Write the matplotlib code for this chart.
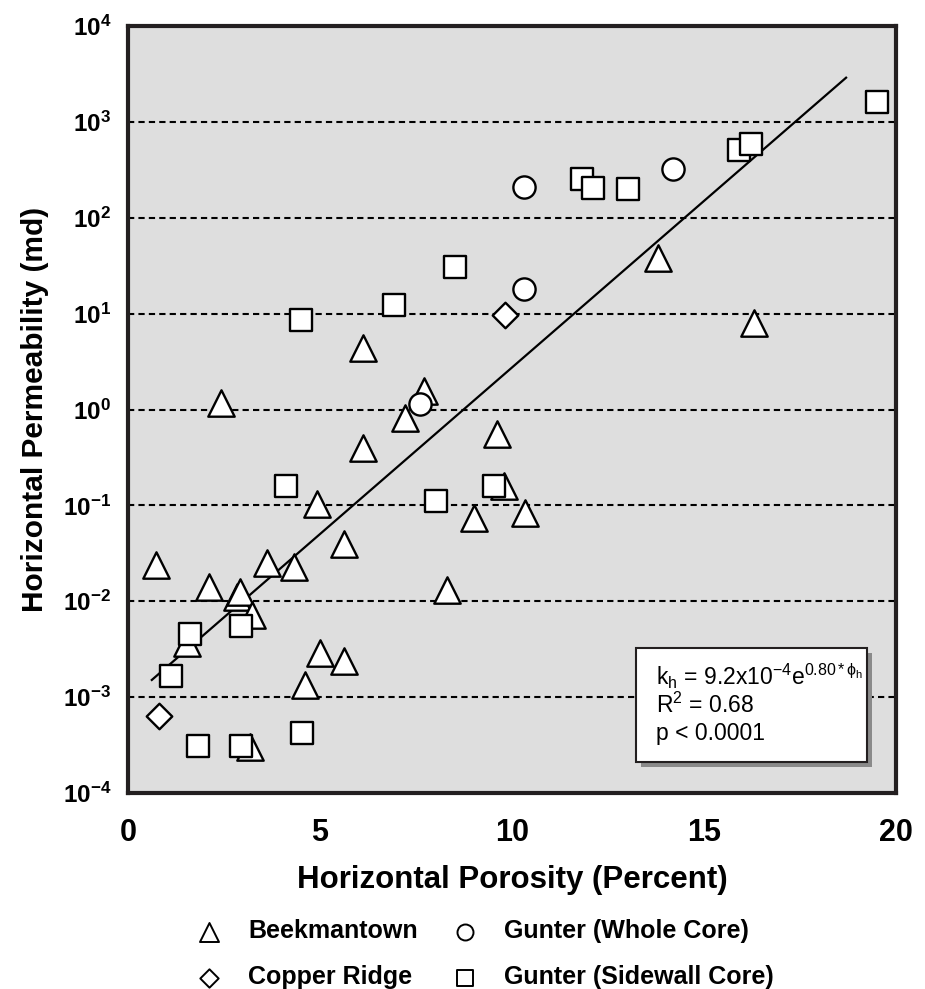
import numpy as np
import matplotlib
matplotlib.use('Agg')
import matplotlib.pyplot as plt
from matplotlib.patches import Rectangle
from matplotlib.ticker import FixedLocator, NullLocator

plt.rcParams['font.family'] = ['Liberation Sans', 'DejaVu Sans']
plt.rcParams['mathtext.fontset'] = 'custom'
plt.rcParams['mathtext.rm'] = 'Liberation Sans'
plt.rcParams['mathtext.it'] = 'Liberation Sans:italic'
plt.rcParams['mathtext.bf'] = 'Liberation Sans:bold'

# Beekmantown (triangles)
beek_phi = [0.73, 2.12, 2.84, 2.92, 3.23, 1.54, 3.62, 4.31, 5.62, 4.92, 8.31, 9.0,
            10.34, 5.01, 5.62, 4.62, 3.18, 9.78, 2.43, 6.12, 7.72, 7.22, 6.12, 9.61,
            13.81, 16.31]
beek_k = [0.024, 0.014, 0.011, 0.0126, 0.0072, 0.0037, 0.025, 0.023, 0.040, 0.104, 0.013, 0.074,
          0.083, 0.0029, 0.0024, 0.00135, 0.0003, 0.16, 1.17, 4.4, 1.55, 0.81, 0.40, 0.56,
          38, 7.9]

# Copper Ridge (diamonds)
copper_phi = [0.82, 9.81]
copper_k = [0.00063, 9.7]

# Gunter whole core (circles)
whole_phi = [10.30, 7.61, 10.31, 14.20]
whole_k = [18, 1.15, 210, 320]

# Gunter sidewall core (squares)
side_phi = [4.12, 8.02, 9.52, 2.93, 1.62, 1.13, 1.82, 2.93, 4.53, 4.51, 6.92, 8.52,
            11.81, 12.12, 13.01, 15.91, 16.22, 19.51]
side_k = [0.16, 0.11, 0.16, 0.0055, 0.0045, 0.00166, 0.00031, 0.00031, 0.00042, 8.6, 12.3, 31,
          253, 203, 200, 510, 590, 1600]

# regression kh = a * exp(b * phi)
fit_a = 9.2e-4
fit_b = 0.80
fit_range = (0.62, 18.7)

y_ticks = [1e-4, 1e-3, 1e-2, 1e-1, 1e0, 1e1, 1e2, 1e3, 1e4]
y_labels = [r'$\mathbf{10^{%d}}$' % e for e in range(-4, 5)]
x_ticks = [0, 5, 10, 15, 20]

fig = plt.figure(figsize=(9.25, 9.89), dpi=100)
ax = fig.add_axes([128 / 925, 196 / 989, 768 / 925, 767 / 989])
ax.set_facecolor('#dedede')

ax.set_yscale('log')
ax.set_xlim(0, 20)
ax.set_ylim(1e-4, 1e4)

for e in range(-3, 4):
    ax.axhline(10.0 ** e, color='black', lw=1.5, ls=(0, (3, 2)), zorder=1)

phi = np.linspace(fit_range[0], fit_range[1], 100)
ax.plot(phi, fit_a * np.exp(fit_b * phi), color='black', lw=1.6, zorder=2)

mk = dict(facecolor='white', edgecolor='black', linewidths=1.7, zorder=3)
ax.scatter(beek_phi, beek_k, marker='^', s=19 ** 2, label='Beekmantown', **mk)
ax.scatter(copper_phi, copper_k, marker='D', s=13 ** 2, label='Copper Ridge', **mk)
ax.scatter(whole_phi, whole_k, marker='o', s=16 ** 2, label='Gunter (Whole Core)', **mk)
ax.scatter(side_phi, side_k, marker='s', s=16 ** 2, label='Gunter (Sidewall Core)', **mk)

ax.xaxis.set_major_locator(FixedLocator(x_ticks))
ax.yaxis.set_major_locator(FixedLocator(y_ticks))
ax.yaxis.set_minor_locator(NullLocator())
ax.set_yticklabels(y_labels)
ax.tick_params(axis='both', length=0)
ax.tick_params(axis='x', pad=18, labelsize=22)
ax.tick_params(axis='y', pad=12, labelsize=17.5)
for lab in ax.get_xticklabels():
    lab.set_fontweight('bold')

for sp in ax.spines.values():
    sp.set_linewidth(3)
    sp.set_color('#231f20')
    sp.set_zorder(5)

ax.set_xlabel('Horizontal Porosity (Percent)', fontsize=22.5, fontweight='bold', labelpad=12)
ax.set_ylabel('Horizontal Permeability (md)', fontsize=21.5, fontweight='bold', labelpad=10)

# equation box with shadow
bx, by, bw, bh = 0.661, 0.040, 0.301, 0.149
ax.add_patch(Rectangle((bx + 0.0065, by - 0.0065), bw, bh, transform=ax.transAxes,
                       facecolor='#8a8a8a', edgecolor='none', zorder=6))
ax.add_patch(Rectangle((bx, by), bw, bh, transform=ax.transAxes,
                       facecolor='white', edgecolor='#231f20', lw=1.5, zorder=7))
box_lines = [r'k$_\mathregular{h}$ = 9.2x10$^\mathregular{-4}$e$^\mathregular{0.80*\phi_h}$',
             r'R$^\mathregular{2}$ = 0.68',
             'p < 0.0001']
box_y = [0.152, 0.114, 0.078]
for t, yy in zip(box_lines, box_y):
    ax.text(bx + 0.026, yy, t, transform=ax.transAxes,
            fontsize=16.5, va='center', ha='left', zorder=8)

leg = fig.legend(loc='upper left', bbox_to_anchor=(0.2097, 0.0705), ncol=2,
                 frameon=False, borderpad=0, borderaxespad=0,
                 markerscale=0.72, handlelength=1.2, handletextpad=0.96,
                 columnspacing=1.3, labelspacing=0.88, prop=dict(size=18, weight='bold'))
for h in leg.legend_handles:
    h.set_linewidth(1.4)

fig.savefig('out.png', dpi=100)
